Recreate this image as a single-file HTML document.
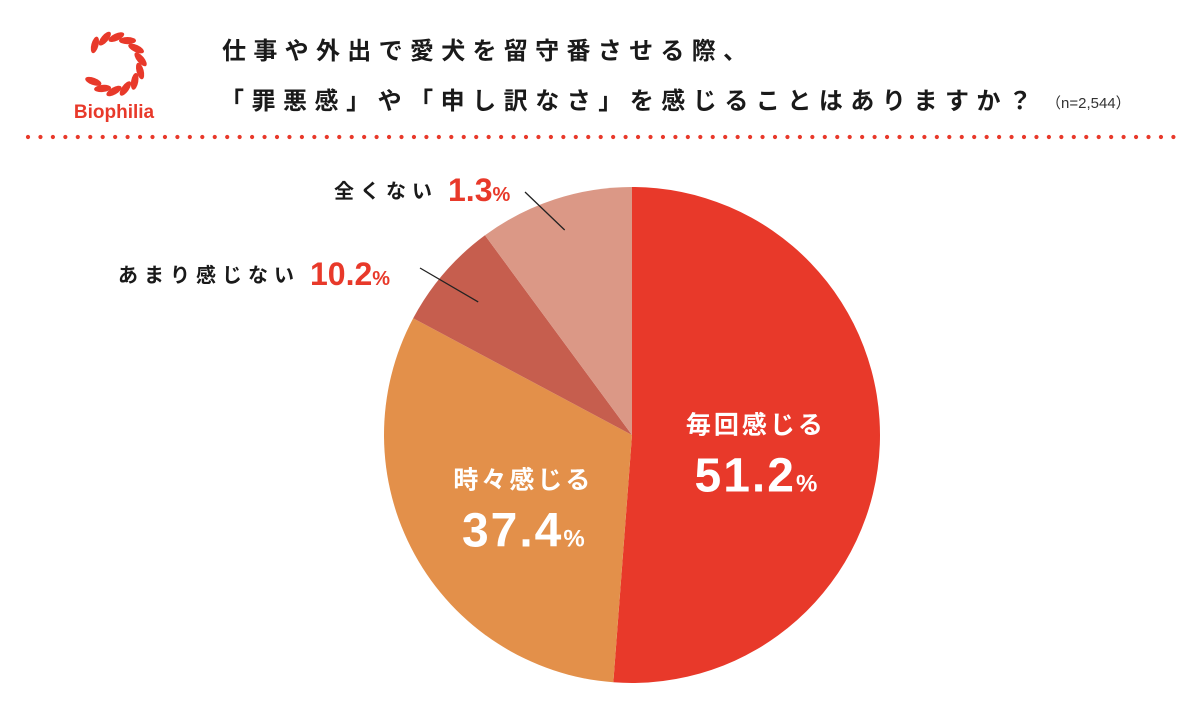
<!DOCTYPE html>
<html><head><meta charset="utf-8">
<style>
html,body{margin:0;padding:0;background:#fff;}
body{width:1200px;height:720px;overflow:hidden;font-family:"Liberation Sans","Noto Sans CJK JP",sans-serif;}
</style></head>
<body>
<svg id="chart" width="1200" height="720" xmlns="http://www.w3.org/2000/svg" font-family="Liberation Sans, Noto Sans CJK JP, sans-serif">
  <g id="logo"></g>
  <text x="114" y="118" text-anchor="middle" font-size="19" font-weight="bold" fill="#E8392A">Biophilia</text>
  <text x="222" y="59" font-size="24" font-weight="bold" fill="#1a1a1a" textLength="525" lengthAdjust="spacing">仕事や外出で愛犬を留守番させる際、</text>
  <text x="220" y="109" font-size="24" font-weight="bold" fill="#1a1a1a" textLength="812" lengthAdjust="spacing">「罪悪感」や「申し訳なさ」を感じることはありますか？</text>
  <text x="1046" y="108" font-size="15" fill="#333">（n=2,544）</text>
  <g id="dots"></g>
  <g id="slices"></g>
  <g id="labels"></g>
</svg>
<script>
const categories = ["毎回感じる","時々感じる","あまり感じない","全くない"];
const sliceValues = [51.2, 31.6, 7.1, 10.1];
const printedValues = ["51.2","37.4","10.2","1.3"];
const colors = ["#E8392A","#E3904A","#C65E4E","#DB9886"];
const NS="http://www.w3.org/2000/svg";
function mk(tag,attrs,parent){const e=document.createElementNS(NS,tag);for(const k in attrs)e.setAttribute(k,attrs[k]);parent.appendChild(e);return e;}
const dots=document.getElementById('dots');
for(let x=28;x<1182;x+=12.45){const d=mk('circle',{cx:x,cy:137,r:2.1,fill:'#E8392A'},dots);

}
const logo=document.getElementById('logo');
for(let i=0;i<12;i++){const deg=-135+i*25;const a=deg*Math.PI/180;const cx=114+27*Math.cos(a),cy=64+27*Math.sin(a);
const el=mk('ellipse',{cx:cx,cy:cy,rx:8.5,ry:3.6,fill:'#E8392A',transform:`rotate(${deg+60} ${cx} ${cy})`},logo);

}
const cx=632,cy=435,R=248;
const total=sliceValues.reduce((a,b)=>a+b,0);
const slicesG=document.getElementById('slices');
let ang=0;const mids=[];
function pt(a,r){return [cx+r*Math.sin(a),cy-r*Math.cos(a)];}
sliceValues.forEach((v,i)=>{const a0=ang,a1=ang+v/total*2*Math.PI;ang=a1;mids.push([a0,a1]);
const p0=pt(a0,R),p1=pt(a1,R);const large=(a1-a0)>Math.PI?1:0;
const p=mk('path',{d:`M${cx},${cy}L${p0[0]},${p0[1]}A${R},${R} 0 ${large} 1 ${p1[0]},${p1[1]}Z`,fill:colors[i]},slicesG);

});
const lg=document.getElementById('labels');
function txt(x,y,s,size,fill,anchor,weight,name){const t=mk('text',{x:x,y:y,'font-size':size,fill:fill,'text-anchor':anchor,'font-weight':weight},lg);t.textContent=s;

return t;}
[0,1].forEach(i=>{const m=(mids[i][0]+mids[i][1])/2;const p=pt(m,R*0.5);
txt(p[0],p[1]-6,categories[i],25,'#fff','middle','bold','slice-label-'+i).setAttribute('letter-spacing','3');
const t=mk('text',{x:p[0],y:p[1]+52,'text-anchor':'middle',fill:'#fff','font-weight':'bold'},lg);


const s1=mk('tspan',{'font-size':48,'letter-spacing':'2'},t);s1.textContent=printedValues[i];
const s2=mk('tspan',{'font-size':24},t);s2.textContent='%';});
const outside=[{i:2,lx:300,ly:282,l1:[420,268],r:0.82},{i:3,lx:438,ly:198,l1:[525,192],r:0.87}];
outside.forEach(o=>{const m=(mids[o.i][0]+mids[o.i][1])/2;const p=pt(m,R*o.r);
const ln=mk('line',{x1:o.l1[0],y1:o.l1[1],x2:p[0],y2:p[1],stroke:'#222','stroke-width':1.3},lg);


txt(o.lx,o.ly,categories[o.i],20,'#1a1a1a','end','bold','outside-label-'+o.i).setAttribute('letter-spacing','6');
const t=mk('text',{x:o.lx+10,y:o.ly+3,fill:'#E8392A','font-weight':'bold'},lg);


const s1=mk('tspan',{'font-size':32},t);s1.textContent=printedValues[o.i];
const s2=mk('tspan',{'font-size':20},t);s2.textContent='%';});
</script>
</body></html>
